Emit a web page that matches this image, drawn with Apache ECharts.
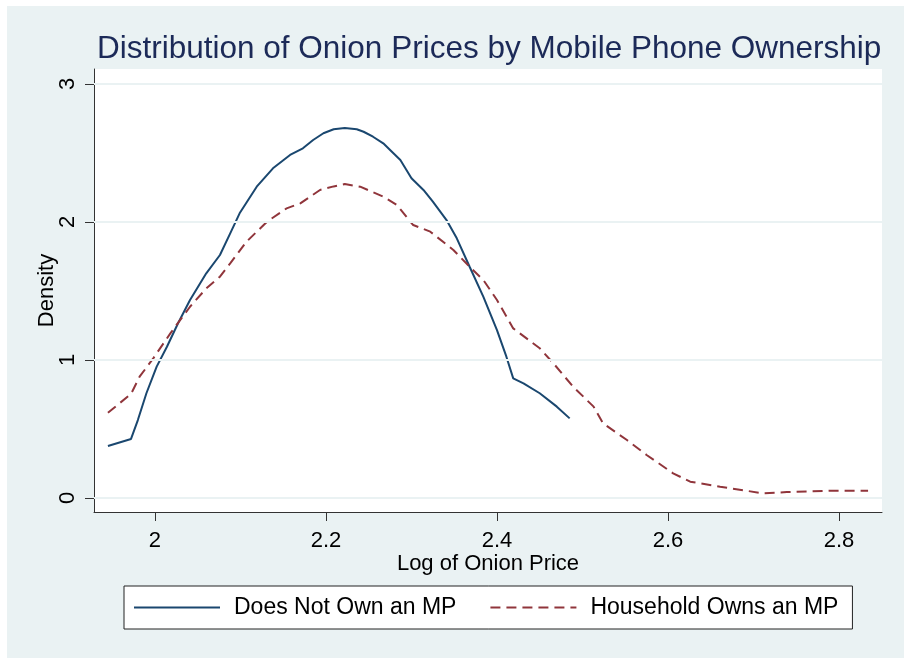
<!DOCTYPE html>
<html>
<head>
<meta charset="utf-8">
<script src="https://cdn.jsdelivr.net/npm/echarts@6/dist/echarts.min.js"></script>
<style>
  body { margin: 0; background: #fff; }
  #chart { width: 904px; height: 658px; }
</style>
</head>
<body>
<div id="chart"></div>
<script>
// log onion price (x) and kernel density (y)
var priceNoMP = [1.945, 1.972, 1.980, 1.990, 2.002, 2.014, 2.027, 2.041, 2.060, 2.076, 2.088, 2.099,
  2.119, 2.138, 2.158, 2.173, 2.185, 2.197, 2.209, 2.222, 2.236, 2.244, 2.255, 2.267, 2.275, 2.287,
  2.300, 2.314, 2.325, 2.341, 2.353, 2.368, 2.384, 2.400, 2.411, 2.419, 2.431, 2.450, 2.470, 2.485];
var densityNoMP = [0.377, 0.428, 0.565, 0.759, 0.952, 1.096, 1.266, 1.435, 1.628, 1.761, 1.918, 2.063,
  2.256, 2.389, 2.486, 2.534, 2.594, 2.643, 2.672, 2.681, 2.672, 2.654, 2.618, 2.570, 2.522, 2.449,
  2.317, 2.232, 2.147, 2.014, 1.882, 1.676, 1.459, 1.217, 1.024, 0.867, 0.831, 0.759, 0.662, 0.577];

var priceMP = [1.945, 1.972, 1.982, 1.998, 2.018, 2.041, 2.060, 2.076, 2.088, 2.107, 2.131, 2.154,
  2.170, 2.193, 2.209, 2.222, 2.240, 2.267, 2.283, 2.302, 2.322, 2.349, 2.368, 2.384, 2.400, 2.419,
  2.450, 2.466, 2.489, 2.513, 2.524, 2.552, 2.575, 2.606, 2.626, 2.661, 2.711, 2.739, 2.793, 2.834];
var densityMP = [0.618, 0.754, 0.879, 1.012, 1.193, 1.386, 1.519, 1.604, 1.700, 1.857, 2.002, 2.099,
  2.135, 2.232, 2.258, 2.275, 2.256, 2.184, 2.123, 1.978, 1.930, 1.797, 1.676, 1.580, 1.435, 1.229,
  1.085, 0.976, 0.807, 0.662, 0.541, 0.420, 0.312, 0.179, 0.118, 0.082, 0.034, 0.043, 0.053, 0.053];

var xTicks = [2, 2.2, 2.4, 2.6, 2.8];
var yTicks = [0, 1, 2, 3];
var seriesNames = ['Does Not Own an MP', 'Household Owns an MP'];

function pairs(xs, ys) {
  return xs.map(function (x, i) { return [x, ys[i]]; });
}

var font = "'Liberation Sans', Arial, sans-serif";
var bg = '#eaf2f3';

var myChart = echarts.init(document.getElementById('chart'));

var option = {
  animation: false,
  backgroundColor: '#fff',
  textStyle: { fontFamily: font },
  graphic: [{
    type: 'rect', z: -100, silent: true,
    shape: { x: 7, y: 6, width: 897, height: 652 },
    style: { fill: bg }
  }],
  title: {
    text: 'Distribution of Onion Prices by Mobile Phone Ownership',
    left: 97, top: 33, padding: 0,
    textStyle: { fontFamily: font, fontSize: 31.5, fontWeight: 'normal', color: '#1c2a58' }
  },
  grid: {
    left: 94, right: 22, top: 69, bottom: 146,
    show: true, backgroundColor: '#fff', borderWidth: 0
  },
  legend: {
    left: 124, top: 586,
    padding: [10, 14, 10, 9],
    itemWidth: 86, itemHeight: 12, itemGap: 33,
    itemStyle: { opacity: 0 },
    backgroundColor: '#fff', borderColor: '#222', borderWidth: 1,
    textStyle: { fontFamily: font, fontSize: 23, color: '#000', padding: [0, 0, 0, 9] },
    data: seriesNames
  },
  xAxis: {
    type: 'value', min: 1.9287, max: 2.8503,
    name: 'Log of Onion Price', nameLocation: 'middle', nameGap: 41, nameMoveOverlap: false,
    nameTextStyle: { fontFamily: font, fontSize: 22, color: '#000' },
    axisLine: { show: true, onZero: false, lineStyle: { color: '#333', width: 1 } },
    axisTick: { show: true, length: 9, customValues: xTicks, lineStyle: { color: '#333' } },
    axisLabel: { customValues: xTicks, fontSize: 22, color: '#000', margin: 18 },
    splitLine: { show: false }
  },
  yAxis: {
    type: 'value', min: -0.1014, max: 3.1087,
    name: 'Density', nameLocation: 'middle', nameGap: 36, nameRotate: 90, nameMoveOverlap: false,
    nameTextStyle: { fontFamily: font, fontSize: 22, color: '#000' },
    axisLine: { show: true, onZero: false, lineStyle: { color: '#333', width: 1 } },
    axisTick: { show: true, length: 9, customValues: yTicks, lineStyle: { color: '#333' } },
    axisLabel: { customValues: yTicks, fontSize: 22, color: '#000', margin: 15, rotate: 90 },
    splitLine: { show: false }
  },
  series: [
    {
      // horizontal gridlines only
      type: 'line', data: [], silent: true,
      markLine: {
        silent: true, symbol: 'none', label: { show: false },
        lineStyle: { color: bg, width: 2, type: 'solid' },
        data: yTicks.map(function (v) { return { yAxis: v }; })
      }
    },
    {
      name: seriesNames[0], type: 'line', symbol: 'none', showSymbol: false,
      data: pairs(priceNoMP, densityNoMP),
      color: '#1a476f',
      lineStyle: { color: '#1a476f', width: 2 }
    },
    {
      name: seriesNames[1], type: 'line', symbol: 'none', showSymbol: false,
      data: pairs(priceMP, densityMP),
      color: '#90353b',
      lineStyle: { color: '#90353b', width: 2, type: [10, 6] }
    }
  ]
};
myChart.setOption(option);
</script>
</body>
</html>
